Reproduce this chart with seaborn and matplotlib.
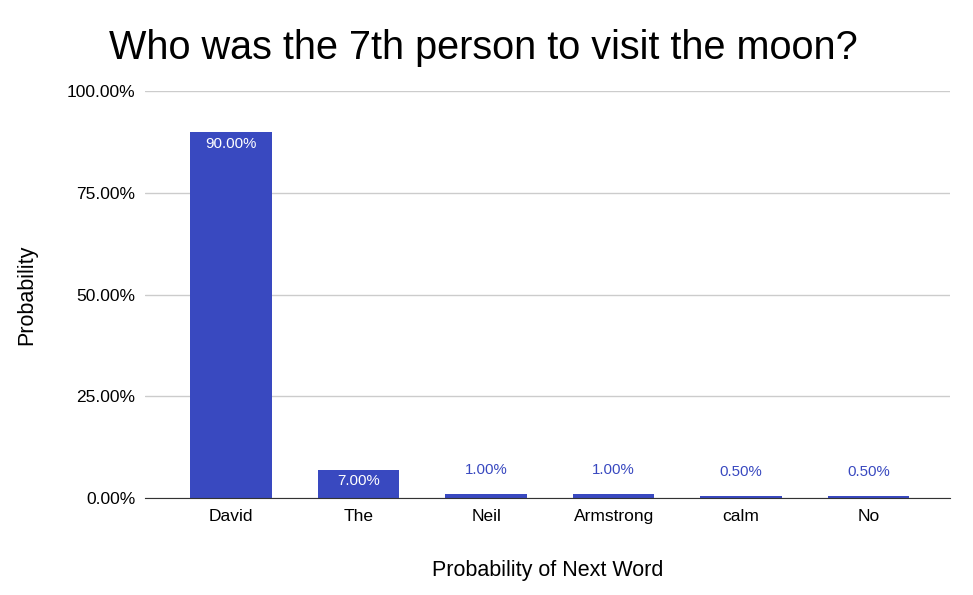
import matplotlib
matplotlib.use('Agg')
import matplotlib.pyplot as plt
import seaborn as sns
import pandas as pd
from matplotlib.ticker import FuncFormatter

words = ['David', 'The', 'Neil', 'Armstrong', 'calm', 'No']
probs = [0.90, 0.07, 0.01, 0.01, 0.005, 0.005]
yticks = [0, 0.25, 0.5, 0.75, 1.0]

df = pd.DataFrame({'word': words, 'prob': probs})

sns.set_style('white')
plt.rcParams['font.family'] = ['Liberation Sans', 'DejaVu Sans']
plt.rcParams['text.color'] = 'black'
plt.rcParams['axes.labelcolor'] = 'black'
plt.rcParams['xtick.color'] = 'black'
plt.rcParams['ytick.color'] = 'black'

bar_color = '#3949C0'

fig = plt.figure(figsize=(9.73, 5.95), dpi=100)
ax = fig.add_axes([0.149, 0.163, 0.827, 0.684])

sns.barplot(data=df, x='word', y='prob', color=bar_color, saturation=1,
            width=0.64, linewidth=0, ax=ax, zorder=3)

ax.set_ylim(0, 1.0)
ax.set_xlim(-0.675, 5.635)
ax.set_yticks(yticks)
ax.yaxis.set_major_formatter(FuncFormatter(lambda v, p: f'{v*100:.2f}%'))
ax.grid(axis='y', color='#cccccc', linewidth=1, zorder=0)
for s in ['top', 'right', 'left']:
    ax.spines[s].set_visible(False)
ax.spines['bottom'].set_color('#333333')
ax.spines['bottom'].set_zorder(4)
ax.tick_params(axis='y', length=0, labelcolor='black', labelsize=12.5, pad=7)
ax.tick_params(axis='x', length=0, labelsize=12.5, labelcolor='black', pad=8)

for i, p in enumerate(probs):
    label = f'{p*100:.2f}%'
    if p > 0.05:
        ax.text(i, p - 0.012, label, ha='center', va='top', color='white', fontsize=10.8)
    else:
        ax.text(i, p + 0.042, label, ha='center', va='bottom', color=bar_color, fontsize=10.8)

ax.set_xlabel('Probability of Next Word', fontsize=15.5, labelpad=26)
ax.set_ylabel('Probability', fontsize=15.5, labelpad=21)
fig.suptitle('Who was the 7th person to visit the moon?', fontsize=28.5,
             x=0.497, y=0.952, color='black')

fig.savefig('out.png', dpi=100)
